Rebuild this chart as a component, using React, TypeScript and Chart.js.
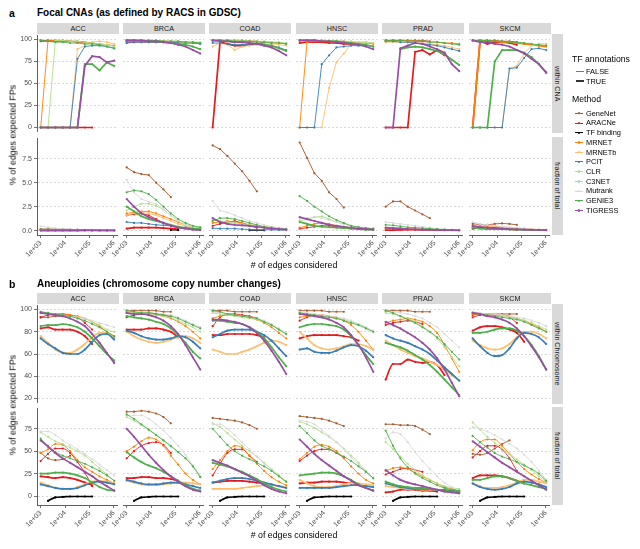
import React, { useEffect, useRef } from "react";
import { Chart, registerables } from "chart.js";

Chart.register(...registerables);

const _ = null;

// ---------- categories / labels ----------
const EDGES = [1000, 2000, 4000, 8000, 16000, 32000, 64000, 128000, 256000, 512000, 1024000];
const CANCERS = ["ACC", "BRCA", "COAD", "HNSC", "PRAD", "SKCM"];
const METHODS = ["GeneNet", "ARACNe", "TF binding", "MRNET", "MRNETb", "PCIT", "CLR", "C3NET", "Mutrank", "GENIE3", "TIGRESS"];
const METHOD_COLORS = ["#A65628", "#E41A1C", "#000000", "#FF7F00", "#FDBF6F", "#377EB8", "#B2DF8A", "#A6CEE3", "#D9D9D9", "#4DAF4A", "#984EA3"];
const TF_LABELS = ["FALSE", "TRUE"];
const X_TICKS = [1e3, 1e4, 1e5, 1e6];
const Y_TICKS_FOCAL_WITHIN = [0, 25, 50, 75, 100];
const Y_TICKS_FOCAL_FRACTION = [0, 2.5, 5, 7.5];
const Y_TICKS_ANEU_WITHIN = [20, 40, 60, 80, 100];
const Y_TICKS_ANEU_FRACTION = [0, 25, 50, 75];

type Series = [string, number, (number | null)[]];

// ---------- a: Focal CNAs, within CNA ----------
const focalWithinACC: Series[] = [
  ["GeneNet", 0, [99, 99, 99, 99, 98, 98, 97, _, _, _, _]],
  ["ARACNe", 0, [98, 98, 98, 98, 98, 97, 97, 96, _, _, _]],
  ["ARACNe", 1, [0, 0, 0, 0, 0, 0, 0, 0, _, _, _]],
  ["MRNET", 0, [0, 99, 99, 98, 98, 97, 97, 96, 95, 94, 93]],
  ["MRNETb", 0, [0, 0, 0, 0, 0, 89, 93, 97, 98, 97, 95]],
  ["PCIT", 0, [0, 0, 0, 0, 0, 78, 92, 93, 93, 92, 90]],
  ["CLR", 0, [0, 0, 99, 99, 98, 98, 97, 96, 95, 94, 92]],
  ["GENIE3", 0, [99, 98, 97, 97, 96, 96, 95, 95, 94, 92, 90]],
  ["GENIE3", 1, [0, 0, 0, 0, 0, 0, 72, 72, 65, 74, 70]],
  ["TIGRESS", 1, [0, 0, 0, 0, 0, 0, 70, 81, 80, 74, 76]],
];
const focalWithinBRCA: Series[] = [
  ["GeneNet", 0, [98, 98, 98, 98, 98, 98, 97, _, _, _, _]],
  ["ARACNe", 0, [96, 97, 97, 97, 97, 97, 97, 97, _, _, _]],
  ["MRNET", 0, [99, 99, 99, 99, 98, 98, 98, 97, 97, 96, 96]],
  ["MRNETb", 0, [98, 98, 98, 98, 98, 97, 97, 97, 96, 96, 95]],
  ["PCIT", 0, [97, 97, 97, 97, 97, 97, 97, 96, 96, 96, 95]],
  ["CLR", 0, [99, 99, 99, 99, 99, 98, 98, 98, 97, 97, 97]],
  ["GENIE3", 0, [99, 99, 99, 99, 99, 98, 98, 98, 97, 97, 96]],
  ["GENIE3", 1, [99, 99, 98, 98, 98, 97, 96, 95, 94, 92, 89]],
  ["TIGRESS", 1, [99, 99, 99, 98, 98, 97, 96, 94, 92, 88, 84]],
];
const focalWithinCOAD: Series[] = [
  ["GeneNet", 0, [99, 99, 99, 99, 99, 98, 98, _, _, _, _]],
  ["ARACNe", 1, [0, 97, 95, 93, 93, 94, 95, 96, _, _, _]],
  ["MRNET", 0, [99, 99, 99, 99, 98, 98, 98, 97, 97, 96, 95]],
  ["MRNETb", 0, [92, 96, 94, 88, 92, 93, 94, 95, 95, 94, 93]],
  ["PCIT", 0, [96, 96, 95, 94, 94, 95, 95, 94, 93, 91, 88]],
  ["CLR", 0, [99, 99, 99, 99, 99, 98, 98, 98, 97, 97, 96]],
  ["GENIE3", 0, [99, 99, 99, 98, 98, 98, 97, 97, 96, 96, 95]],
  ["GENIE3", 1, [99, 99, 98, 97, 97, 96, 95, 94, 93, 90, 87]],
  ["TIGRESS", 1, [99, 98, 98, 97, 97, 96, 95, 93, 91, 87, 82]],
];
const focalWithinHNSC: Series[] = [
  ["GeneNet", 0, [99, 99, 99, 99, 98, 98, 98, _, _, _, _]],
  ["ARACNe", 1, [96, 97, 97, 97, 96, 96, 95, 95, 94, _, _]],
  ["MRNET", 0, [0, 97, 98, 98, 98, 98, 97, 97, 96, 96, 95]],
  ["MRNETb", 0, [0, 0, 0, 0, 45, 74, 84, 95, 97, 97, 96]],
  ["PCIT", 0, [0, 0, 0, 72, 82, 91, 92, 93, 93, 93, 92]],
  ["CLR", 0, [99, 99, 99, 99, 99, 98, 98, 98, 97, 97, 96]],
  ["GENIE3", 1, [99, 99, 99, 98, 98, 98, 97, 96, 95, 94, 92]],
  ["TIGRESS", 1, [99, 99, 99, 98, 98, 97, 96, 95, 94, 92, 89]],
];
const focalWithinPRAD: Series[] = [
  ["GeneNet", 0, [99, 99, 99, 99, 99, 99, 98, _, _, _, _]],
  ["ARACNe", 1, [0, 0, 0, 0, 86, 88, 83, 88, 82, _, _]],
  ["MRNET", 0, [99, 99, 99, 99, 98, 98, 97, 97, 96, 96, 95]],
  ["MRNETb", 0, [97, 97, 97, 97, 96, 96, 95, 94, 93, 91, 89]],
  ["PCIT", 0, [98, 98, 97, 97, 96, 95, 94, 93, 91, 89, 87]],
  ["GENIE3", 0, [99, 99, 99, 98, 98, 98, 97, 97, 96, 95, 94]],
  ["GENIE3", 1, [_, _, 89, 91, 92, 91, 89, 87, 83, 77, 71]],
  ["TIGRESS", 1, [0, 0, 90, 93, 96, 95, 92, 89, 85, 72, 64]],
];
const focalWithinSKCM: Series[] = [
  ["GeneNet", 0, [99, 99, 99, 99, 98, 98, 97, _, _, _, _]],
  ["ARACNe", 1, [0, 98, 95, 97, 97, 96, 94, _, _, _, _]],
  ["MRNET", 1, [0, 99, 98, 98, 97, 97, 96, 95, 94, 93, 92]],
  ["MRNETb", 0, [0, 0, 0, 0, 0, 67, 70, 84, 93, 95, 95]],
  ["PCIT", 0, [0, 0, 0, 0, 0, 67, 68, 79, 89, 90, 88]],
  ["GENIE3", 0, [99, 99, 99, 98, 98, 97, 97, 96, 95, 94, 93]],
  ["GENIE3", 1, [0, 0, 0, 75, 88, 88, 88, 85, 80, 72, 63]],
  ["TIGRESS", 1, [99, 97, 97, 95, 94, 92, 88, 84, 78, 72, 62]],
];

// ---------- a: Focal CNAs, fraction of total ----------
const focalFracACC: Series[] = [
  ["GeneNet", 0, [0.15, 0.15, 0.15, 0.15, 0.12, 0.1, 0.08, _, _, _, _]],
  ["ARACNe", 0, [0.1, 0.1, 0.1, 0.08, 0.06, 0.05, 0.04, 0.03, _, _, _]],
  ["Mutrank", 0, [0.45, 0.35, 0.25, 0.2, 0.15, 0.1, 0.08, 0.06, 0.04, 0.03, 0.02]],
  ["MRNET", 0, [0.1, 0.12, 0.12, 0.1, 0.08, 0.06, 0.05, 0.04, 0.03, 0.02, 0.02]],
  ["GENIE3", 1, [0.1, 0.1, 0.09, 0.08, 0.07, 0.06, 0.05, 0.04, 0.03, 0.02, 0.02]],
  ["TIGRESS", 1, [0, 0, 0, 0, 0, 0, 0.02, 0.02, 0.02, 0.02, 0.02]],
];
const focalFracBRCA: Series[] = [
  ["GeneNet", 0, [6.6, 6.1, 5.9, 5.8, 5.0, 4.3, 3.5, _, _, _, _]],
  ["Mutrank", 0, [5.3, 4.0, 3.3, 3.0, 2.8, 2.2, 1.6, 1.0, 0.6, 0.4, 0.3]],
  ["CLR", 0, [2.1, 2.5, 2.8, 2.8, 2.6, 2.2, 1.6, 1.0, 0.6, 0.4, 0.3]],
  ["GENIE3", 0, [4.0, 4.2, 4.1, 3.8, 3.2, 2.5, 1.8, 1.2, 0.8, 0.5, 0.35]],
  ["GENIE3", 1, [2.5, 2.0, 1.5, 1.2, 1.0, 0.8, 0.6, 0.4, 0.3, 0.2, 0.15]],
  ["MRNET", 0, [1.8, 1.9, 2.0, 2.0, 1.8, 1.5, 1.2, 0.9, 0.6, 0.4, 0.3]],
  ["MRNETb", 0, [1.6, 1.8, 1.9, 1.8, 1.6, 1.3, 1.0, 0.7, 0.5, 0.3, 0.2]],
  ["ARACNe", 0, [1.6, 1.7, 1.8, 1.6, 1.2, 0.8, 0.5, 0.3, _, _, _]],
  ["ARACNe", 1, [0.2, 0.3, 0.3, 0.3, 0.3, 0.25, 0.2, 0.15, _, _, _]],
  ["PCIT", 0, [0.9, 0.8, 0.8, 0.7, 0.6, 0.55, 0.5, 0.4, 0.3, 0.2, 0.15]],
  ["TF binding", 0, [_, _, _, _, _, _, 0.05, 0.05, _, _, _]],
  ["TIGRESS", 1, [3.3, 2.5, 1.8, 1.4, 1.1, 0.8, 0.5, 0.3, 0.2, 0.1, 0.05]],
];
const focalFracCOAD: Series[] = [
  ["GeneNet", 0, [8.9, 8.5, 7.8, 7.0, 6.2, 5.2, 4.1, _, _, _, _]],
  ["Mutrank", 0, [3.1, 2.1, 1.9, 1.6, 1.3, 1.0, 0.8, 0.6, 0.4, 0.3, 0.2]],
  ["CLR", 0, [1.1, 1.0, 0.9, 0.8, 0.7, 0.6, 0.5, 0.35, 0.25, 0.2, 0.15]],
  ["GENIE3", 0, [1.0, 1.3, 1.3, 1.2, 1.0, 0.8, 0.6, 0.4, 0.3, 0.2, 0.15]],
  ["MRNET", 0, [0.8, 0.9, 1.0, 0.9, 0.8, 0.6, 0.5, 0.4, 0.3, 0.2, 0.15]],
  ["ARACNe", 0, [0.5, 0.7, 0.9, 1.0, 0.8, 0.5, 0.3, _, _, _, _]],
  ["PCIT", 0, [0.25, 0.2, 0.2, 0.2, 0.15, 0.12, 0.1, 0.1, 0.08, 0.06, 0.05]],
  ["TF binding", 0, [_, _, _, _, _, 0.03, 0.03, 0.03, _, _, _]],
  ["TIGRESS", 1, [1.3, 0.9, 0.7, 0.6, 0.55, 0.5, 0.4, 0.3, 0.2, 0.15, 0.1]],
];
const focalFracHNSC: Series[] = [
  ["GeneNet", 0, [9.2, 7.6, 6.0, 5.2, 4.0, 3.3, 2.4, _, _, _, _]],
  ["Mutrank", 0, [1.2, 1.3, 1.4, 1.3, 1.1, 0.9, 0.7, 0.5, 0.4, 0.3, 0.2]],
  ["CLR", 0, [1.0, 1.2, 1.4, 1.5, 1.2, 0.9, 0.7, 0.5, 0.35, 0.25, 0.2]],
  ["GENIE3", 0, [3.6, 3.1, 2.5, 2.0, 1.5, 1.1, 0.8, 0.5, 0.35, 0.25, 0.2]],
  ["GENIE3", 1, [0.9, 0.7, 0.5, 0.4, 0.35, 0.3, 0.25, 0.2, 0.15, 0.1, 0.1]],
  ["MRNET", 0, [0.3, 0.5, 0.7, 0.8, 0.7, 0.5, 0.4, 0.3, 0.2, 0.15, 0.1]],
  ["ARACNe", 0, [0.2, 0.3, 0.4, 0.5, 0.5, 0.4, 0.3, _, _, _, _]],
  ["TIGRESS", 1, [1.4, 1.2, 1.0, 0.8, 0.6, 0.5, 0.4, 0.3, 0.2, 0.15, 0.1]],
];
const focalFracPRAD: Series[] = [
  ["GeneNet", 0, [2.5, 3.05, 3.05, 2.5, 2.1, 1.7, 1.3, _, _, _, _]],
  ["Mutrank", 0, [0.9, 0.8, 0.7, 0.6, 0.5, 0.4, 0.3, 0.2, 0.15, 0.1, 0.08]],
  ["GENIE3", 0, [0.6, 0.55, 0.45, 0.35, 0.3, 0.25, 0.2, 0.15, 0.1, 0.08, 0.05]],
  ["MRNET", 0, [0.2, 0.25, 0.25, 0.2, 0.15, 0.12, 0.1, 0.08, 0.06, 0.05, 0.04]],
  ["ARACNe", 1, [0.05, 0.05, 0.08, 0.1, 0.1, 0.08, 0.06, 0.05, 0.04, _, _]],
  ["TIGRESS", 1, [0.3, 0.25, 0.2, 0.15, 0.12, 0.1, 0.08, 0.06, 0.05, 0.04, 0.03]],
];
const focalFracSKCM: Series[] = [
  ["GeneNet", 0, [0.7, 0.65, 0.6, 0.7, 0.75, 0.7, 0.6, _, _, _, _]],
  ["Mutrank", 0, [0.9, 0.7, 0.6, 0.5, 0.4, 0.35, 0.3, 0.2, 0.15, 0.1, 0.08]],
  ["MRNET", 0, [0.4, 0.45, 0.5, 0.45, 0.4, 0.3, 0.25, 0.2, 0.15, 0.1, 0.08]],
  ["GENIE3", 1, [0.3, 0.2, 0.15, 0.15, 0.15, 0.12, 0.1, 0.08, 0.06, 0.05, 0.04]],
  ["ARACNe", 1, [0.2, 0.3, 0.3, 0.25, 0.2, 0.15, 0.1, _, _, _, _]],
  ["TIGRESS", 1, [0.5, 0.4, 0.3, 0.25, 0.2, 0.15, 0.12, 0.1, 0.08, 0.06, 0.05]],
];

// ---------- b: Aneuploidies, within chromosome ----------
const aneuWithinACC: Series[] = [
  ["GeneNet", 0, [93, 93, 94, 94, 94, _, _, _, _, _, _]],
  ["Mutrank", 0, [98, 97, 96, 95, 94, 93, 92, 90, 88, 86, 84]],
  ["CLR", 0, [97, 96, 96, 95, 94, 93, 92, 89, 86, 82, 80]],
  ["GENIE3", 0, [98, 97, 96, 95, 94, 92, 90, 87, 84, 80, 76]],
  ["MRNET", 0, [97, 96, 95, 96, 95, 94, 92, 89, 85, 80, 75]],
  ["ARACNe", 0, [93, 95, 96, 96, 95, 93, 88, 82, _, _, _]],
  ["ARACNe", 1, [83, 84, 82, 82, 82, 80, 76, 69, _, _, _]],
  ["GENIE3", 1, [85, 86, 86, 87, 86, 84, 80, 74, 67, 60, 54]],
  ["PCIT", 1, [74, 69, 65, 61, 60, 60, 64, 71, 77, 78, 73]],
  ["MRNETb", 1, [76, 70, 64, 61, 61, 64, 69, 75, 79, 79, 76]],
  ["TIGRESS", 1, [97, 96, 95, 94, 92, 89, 85, 78, 70, 61, 52]],
];
const aneuWithinBRCA: Series[] = [
  ["GeneNet", 0, [99, 99, 99, 99, 99, 98, 98, _, _, _, _]],
  ["Mutrank", 0, [99, 98, 98, 97, 97, 96, 95, 93, 90, 87, 84]],
  ["CLR", 0, [98, 97, 97, 96, 95, 94, 93, 90, 87, 84, 80]],
  ["GENIE3", 0, [99, 98, 97, 97, 96, 95, 94, 92, 89, 86, 83]],
  ["MRNET", 0, [97, 97, 96, 96, 95, 94, 92, 89, 85, 80, 74]],
  ["ARACNe", 0, [93, 95, 96, 97, 96, 95, 93, _, _, _, _]],
  ["ARACNe", 1, [82, 82, 82, 83, 83, 82, 80, 75, _, _, _]],
  ["GENIE3", 1, [94, 93, 92, 91, 89, 87, 83, 77, 70, 62, 56]],
  ["PCIT", 1, [81, 79, 76, 74, 73, 73, 74, 76, 75, 71, 65]],
  ["MRNETb", 1, [80, 76, 73, 71, 70, 71, 73, 75, 76, 74, 70]],
  ["TIGRESS", 1, [97, 96, 96, 95, 93, 90, 85, 78, 68, 57, 46]],
];
const aneuWithinCOAD: Series[] = [
  ["GeneNet", 0, [99, 99, 99, 98, 98, 98, 98, _, _, _, _]],
  ["Mutrank", 0, [98, 97, 96, 95, 94, 93, 92, 90, 87, 83, 79]],
  ["CLR", 0, [97, 96, 95, 94, 93, 92, 91, 89, 86, 82, 78]],
  ["GENIE3", 0, [99, 98, 96, 95, 94, 93, 92, 89, 86, 82, 78]],
  ["MRNET", 0, [92, 94, 95, 95, 94, 93, 91, 88, 84, 79, 74]],
  ["ARACNe", 0, [85, 93, 96, 96, 95, 94, 92, _, _, _, _]],
  ["ARACNe", 1, [77, 77, 78, 78, 78, 78, 77, 75, _, _, _]],
  ["GENIE3", 1, [90, 90, 89, 88, 87, 84, 80, 74, 66, 57, 49]],
  ["PCIT", 1, [75, 78, 81, 82, 82, 82, 80, 77, 72, 65, 58]],
  ["MRNETb", 1, [64, 62, 60, 60, 62, 64, 67, 70, 72, 71, 68]],
  ["TIGRESS", 1, [91, 91, 90, 89, 87, 84, 79, 72, 63, 53, 42]],
];
const aneuWithinHNSC: Series[] = [
  ["GeneNet", 0, [99, 99, 99, 99, 98, 98, 98, _, _, _, _]],
  ["Mutrank", 0, [98, 97, 96, 95, 94, 93, 92, 90, 87, 84, 81]],
  ["CLR", 0, [97, 96, 95, 94, 93, 92, 91, 89, 87, 84, 80]],
  ["GENIE3", 0, [97, 96, 95, 94, 93, 92, 90, 88, 86, 83, 80]],
  ["MRNET", 0, [93, 94, 95, 95, 94, 93, 90, 86, 80, 72, 64]],
  ["ARACNe", 0, [90, 93, 95, 95, 94, 92, _, _, _, _, _]],
  ["ARACNe", 1, [74, 76, 77, 77, 77, 77, 76, 75, 72, _, _]],
  ["GENIE3", 1, [84, 86, 87, 87, 86, 85, 82, 76, 68, 59, 51]],
  ["PCIT", 1, [64, 65, 62, 61, 61, 63, 66, 68, 67, 63, 57]],
  ["MRNETb", 1, [80, 74, 68, 65, 64, 65, 67, 69, 69, 67, 64]],
  ["TIGRESS", 1, [96, 95, 94, 93, 91, 88, 84, 77, 68, 57, 44]],
];
const aneuWithinPRAD: Series[] = [
  ["GeneNet", 0, [99, 99, 99, 99, 98, 98, 98, _, _, _, _]],
  ["Mutrank", 0, [99, 98, 97, 96, 94, 92, 88, 84, 78, 72, 66]],
  ["CLR", 0, [97, 96, 94, 92, 89, 85, 80, 74, 66, 57, 49]],
  ["GENIE3", 0, [99, 97, 94, 91, 88, 84, 80, 75, 69, 62, 55]],
  ["MRNET", 0, [88, 90, 91, 92, 91, 89, 85, 79, 68, 56, 44]],
  ["ARACNe", 0, [86, 88, 89, 90, 89, 87, _, _, _, _, _]],
  ["ARACNe", 1, [37, 51, 51, 55, 53, 52, 53, 50, 41, _, _]],
  ["GENIE3", 1, [70, 68, 66, 63, 59, 55, 50, 44, 37, 30, 23]],
  ["PCIT", 1, [77, 74, 72, 70, 67, 64, 60, 54, 48, 42, 36]],
  ["MRNETb", 1, [72, 68, 64, 61, 58, 56, 53, 50, 46, 41, 36]],
  ["TIGRESS", 1, [89, 86, 83, 79, 75, 70, 64, 56, 46, 34, 22]],
];
const aneuWithinSKCM: Series[] = [
  ["GeneNet", 0, [95, 96, 96, 96, 96, 96, 96, _, _, _, _]],
  ["Mutrank", 0, [98, 97, 96, 96, 95, 94, 93, 92, 90, 88, 85]],
  ["CLR", 0, [97, 96, 95, 95, 94, 93, 92, 90, 88, 85, 82]],
  ["GENIE3", 0, [97, 96, 95, 94, 93, 92, 91, 89, 86, 83, 80]],
  ["MRNET", 0, [96, 96, 96, 95, 95, 94, 92, 90, 87, 84, 80]],
  ["ARACNe", 0, [93, 95, 96, 95, 95, 93, 88, _, _, _, _]],
  ["ARACNe", 1, [81, 84, 85, 85, 84, 82, 79, 71, _, _, _]],
  ["GENIE3", 1, [79, 79, 80, 82, 83, 83, 81, 76, 68, 58, 46]],
  ["PCIT", 1, [74, 67, 61, 58, 59, 65, 74, 79, 78, 75, 69]],
  ["MRNETb", 1, [72, 68, 65, 64, 65, 69, 75, 80, 80, 78, 74]],
  ["TIGRESS", 1, [97, 96, 94, 93, 91, 88, 83, 76, 67, 57, 46]],
];

// ---------- b: Aneuploidies, fraction of total ----------
const aneuFracACC: Series[] = [
  ["GeneNet", 0, [48, 42, 40, 41, 45, _, _, _, _, _, _]],
  ["Mutrank", 0, [72, 72, 68, 62, 57, 52, 47, 41, 35, 29, 23]],
  ["CLR", 0, [71, 66, 61, 58, 54, 50, 45, 38, 31, 24, 17]],
  ["GENIE3", 0, [64, 56, 49, 45, 42, 39, 36, 32, 28, 23, 17]],
  ["MRNET", 0, [48, 52, 58, 57, 50, 40, 32, 27, 22, 18, 14]],
  ["ARACNe", 0, [39, 47, 53, 53, 48, 38, 26, 11, _, _, _]],
  ["ARACNe", 1, [22, 21, 20, 21, 20, 18, 15, 12, _, _, _]],
  ["GENIE3", 1, [25, 25, 26, 26, 25, 23, 20, 15, 10, 7, 6]],
  ["PCIT", 1, [13, 11, 9, 8, 8, 9, 12, 15, 16, 15, 13]],
  ["MRNETb", 1, [15, 12, 9, 8, 8, 10, 13, 16, 17, 16, 14]],
  ["TF binding", 1, [_, -5.5, -1.5, -1, -0.5, -0.5, -0.5, -0.5, _, _, _]],
  ["TIGRESS", 1, [62, 55, 48, 42, 37, 32, 27, 22, 16, 11, 6]],
];
const aneuFracBRCA: Series[] = [
  ["GeneNet", 0, [94, 94, 95, 94, 92, 88, 81, _, _, _, _]],
  ["Mutrank", 0, [90, 90, 90, 86, 80, 73, 65, 56, 46, 34, 22]],
  ["CLR", 0, [88, 84, 79, 74, 68, 62, 55, 49, 42, 34, 22]],
  ["GENIE3", 0, [91, 86, 80, 74, 68, 62, 56, 49, 42, 33, 21]],
  ["MRNET", 0, [50, 55, 61, 65, 63, 56, 45, 35, 25, 18, 13]],
  ["ARACNe", 0, [42, 50, 56, 59, 60, 57, 48, _, _, _, _]],
  ["ARACNe", 1, [20, 20, 21, 21, 20, 20, 19, 17, _, _, _]],
  ["GENIE3", 1, [49, 43, 38, 34, 31, 27, 22, 17, 12, 8, 6]],
  ["PCIT", 1, [18, 16, 14, 13, 13, 14, 15, 15, 13, 11, 9]],
  ["MRNETb", 1, [17, 15, 13, 12, 12, 13, 14, 15, 15, 14, 13]],
  ["TF binding", 1, [_, -5.5, -1.5, -1, -0.5, -0.5, -0.5, -0.5, _, _, _]],
  ["TIGRESS", 1, [75, 66, 56, 46, 37, 29, 22, 16, 11, 7, 5]],
];
const aneuFracCOAD: Series[] = [
  ["GeneNet", 0, [87, 86, 85, 84, 82, 79, 75, _, _, _, _]],
  ["Mutrank", 0, [80, 80, 75, 68, 60, 52, 44, 36, 30, 22, 15]],
  ["CLR", 0, [81, 77, 70, 63, 56, 50, 44, 37, 30, 23, 16]],
  ["GENIE3", 0, [75, 66, 57, 50, 45, 41, 37, 33, 28, 22, 16]],
  ["MRNET", 0, [30, 40, 50, 56, 54, 45, 36, 28, 21, 16, 12]],
  ["ARACNe", 0, [23, 36, 48, 52, 52, 45, 38, _, _, _, _]],
  ["ARACNe", 1, [15, 16, 17, 17, 17, 16, 15, 14, _, _, _]],
  ["GENIE3", 1, [37, 35, 33, 30, 27, 23, 19, 14, 10, 7, 5]],
  ["PCIT", 1, [15, 17, 19, 20, 20, 19, 17, 15, 13, 11, 9]],
  ["MRNETb", 1, [8, 8, 8, 8, 9, 10, 11, 12, 12, 11, 10]],
  ["TF binding", 1, [_, -5.5, -1.5, -1, -0.5, -0.5, -0.5, -0.5, _, _, _]],
  ["TIGRESS", 1, [40, 37, 34, 30, 26, 22, 17, 12, 8, 5, 3]],
];
const aneuFracHNSC: Series[] = [
  ["GeneNet", 0, [89, 88, 87, 86, 84, 81, 78, _, _, _, _]],
  ["Mutrank", 0, [84, 83, 80, 74, 67, 60, 52, 43, 35, 27, 19]],
  ["CLR", 0, [83, 80, 76, 71, 66, 60, 53, 45, 37, 28, 20]],
  ["GENIE3", 0, [78, 70, 62, 56, 52, 48, 44, 39, 33, 27, 20]],
  ["MRNET", 0, [41, 48, 55, 57, 55, 50, 42, 33, 25, 18, 14]],
  ["ARACNe", 0, [39, 45, 50, 52, 52, 48, 43, _, _, _, _]],
  ["ARACNe", 1, [14, 15, 15, 16, 16, 16, 15, 14, 13, _, _]],
  ["GENIE3", 1, [23, 24, 25, 26, 26, 25, 22, 18, 13, 9, 6]],
  ["PCIT", 1, [9, 9, 9, 9, 9, 10, 11, 12, 12, 11, 10]],
  ["MRNETb", 1, [18, 14, 11, 10, 10, 11, 13, 14, 14, 13, 12]],
  ["TF binding", 1, [_, -5.5, -1.5, -1, -0.5, -0.5, -0.5, -0.5, _, _, _]],
  ["TIGRESS", 1, [63, 55, 47, 40, 34, 28, 22, 17, 12, 9, 6]],
];
const aneuFracPRAD: Series[] = [
  ["GeneNet", 0, [80, 80, 79, 79, 78, 74, 69, _, _, _, _]],
  ["Mutrank", 0, [64, 71, 69, 60, 49, 39, 30, 22, 15, 10, 7]],
  ["CLR", 0, [60, 52, 44, 36, 29, 23, 18, 14, 11, 9, 8]],
  ["GENIE3", 0, [73, 56, 42, 32, 25, 20, 16, 12, 9, 7, 6]],
  ["MRNET", 0, [28, 31, 32, 30, 26, 22, 18, 14, 10, 8, 6]],
  ["ARACNe", 0, [24, 27, 30, 31, 29, 27, _, _, _, _, _]],
  ["ARACNe", 1, [4, 5, 7, 7, 7, 6, 6, 5, _, _, _]],
  ["GENIE3", 1, [16, 13, 11, 10, 9, 9, 8, 7, 6, 5, 4]],
  ["PCIT", 1, [14, 12, 10, 9, 8, 8, 8, 7, 7, 6, 5]],
  ["MRNETb", 1, [11, 10, 9, 8, 8, 7, 7, 7, 6, 5, 5]],
  ["TF binding", 1, [_, -5.5, -1.5, -1, -0.5, -0.5, -0.5, -0.5, _, _, _]],
  ["TIGRESS", 1, [29, 23, 18, 15, 13, 11, 9, 7, 5, 4, 3]],
];
const aneuFracSKCM: Series[] = [
  ["GeneNet", 0, [47, 46, 48, 53, 58, 62, _, _, _, _, _]],
  ["Mutrank", 0, [77, 75, 72, 68, 63, 58, 53, 46, 38, 28, 18]],
  ["CLR", 0, [82, 74, 66, 59, 53, 47, 41, 35, 29, 22, 16]],
  ["GENIE3", 0, [67, 60, 54, 48, 44, 41, 38, 34, 30, 25, 17]],
  ["MRNET", 0, [51, 60, 63, 63, 56, 47, 38, 30, 24, 19, 15]],
  ["ARACNe", 0, [43, 50, 56, 56, 52, 42, 28, _, _, _, _]],
  ["ARACNe", 1, [20, 23, 23, 23, 22, 20, 17, 14, _, _, _]],
  ["GENIE3", 1, [18, 18, 20, 22, 22, 20, 17, 14, 12, 10, 8]],
  ["PCIT", 1, [14, 10, 8, 7, 8, 10, 14, 16, 15, 13, 10]],
  ["MRNETb", 1, [14, 11, 9, 9, 10, 12, 15, 18, 18, 16, 14]],
  ["TF binding", 1, [_, -5.5, -1.5, -1, -0.5, -0.5, -0.5, -0.5, _, _, _]],
  ["TIGRESS", 1, [61, 55, 49, 43, 37, 32, 27, 22, 17, 12, 7]],
];

const FOCAL_WITHIN = [focalWithinACC, focalWithinBRCA, focalWithinCOAD, focalWithinHNSC, focalWithinPRAD, focalWithinSKCM];
const FOCAL_FRACTION = [focalFracACC, focalFracBRCA, focalFracCOAD, focalFracHNSC, focalFracPRAD, focalFracSKCM];
const ANEU_WITHIN = [aneuWithinACC, aneuWithinBRCA, aneuWithinCOAD, aneuWithinHNSC, aneuWithinPRAD, aneuWithinSKCM];
const ANEU_FRACTION = [aneuFracACC, aneuFracBRCA, aneuFracCOAD, aneuFracHNSC, aneuFracPRAD, aneuFracSKCM];

// ---------- layout / style ----------
const FONT = "'Liberation Sans', Arial, Helvetica, sans-serif";
const AXIS = "#4d4d4d";
const COLS = [37, 123, 209, 296, 382, 469];
const PW = 82;
const YW = 28;
const XH = 34;

function fmtX(v: number) {
  const e = Math.round(Math.log10(v));
  return "1e+" + String(e).padStart(2, "0");
}

function Facet(props: any) {
  const { series, left, top, height, yMin, yMax, yTicks, yDecimals, showY, showX, smooth } = props;
  const ref = useRef<HTMLCanvasElement | null>(null);
  const cw = PW + YW;
  const ch = height + (showX ? XH : 0);
  useEffect(() => {
    const datasets = (series as Series[]).map(([m, tf, vals]) => {
      const mi = METHODS.indexOf(m);
      const color = METHOD_COLORS[mi];
      const data: any[] = [];
      vals.forEach((v, i) => {
        if (v !== null) data.push({ x: EDGES[i], y: v });
      });
      return {
        label: m + " " + TF_LABELS[tf],
        data,
        borderColor: color,
        backgroundColor: color,
        borderWidth: tf ? 1.7 : 0.9,
        pointRadius: 1.1,
        pointBorderWidth: 0,
        pointHoverRadius: 0,
        cubicInterpolationMode: smooth ? "monotone" : "default",
        tension: 0,
        order: -(mi * 2 + tf),
      };
    });
    const chart = new Chart(ref.current as HTMLCanvasElement, {
      type: "line",
      data: { datasets } as any,
      options: {
        animation: false,
        responsive: false,
        maintainAspectRatio: false,
        devicePixelRatio: 1,
        events: [],
        layout: { padding: 0 },
        plugins: { legend: { display: false }, tooltip: { enabled: false } },
        scales: {
          x: {
            type: "logarithmic",
            display: showX,
            min: Math.pow(10, 2.85),
            max: Math.pow(10, 6.16),
            afterBuildTicks: (s: any) => {
              s.ticks = X_TICKS.map((v) => ({ value: v }));
            },
            afterFit: (s: any) => {
              s.height = showX ? XH : 0;
              s.paddingLeft = 0;
              s.paddingRight = 0;
              s.paddingTop = 0;
              s.paddingBottom = 0;
            },
            grid: { drawOnChartArea: false, drawTicks: true, tickLength: 3, tickColor: AXIS, tickWidth: 0.8 },
            border: { display: true, color: AXIS, width: 0.9 },
            ticks: {
              autoSkip: false,
              minRotation: 45,
              maxRotation: 45,
              padding: 1,
              color: AXIS,
              font: { family: FONT, size: 7 },
              callback: (v: any) => fmtX(Number(v)),
            },
          },
          y: {
            type: "linear",
            min: yMin,
            max: yMax,
            afterBuildTicks: (s: any) => {
              s.ticks = (yTicks as number[]).map((v) => ({ value: v }));
            },
            afterFit: (s: any) => {
              s.width = YW;
              s.paddingTop = 0;
              s.paddingBottom = 0;
              s.paddingLeft = 0;
              s.paddingRight = 0;
            },
            grid: { color: "#cfcfcf", lineWidth: 0.8, drawTicks: showY, tickLength: 3, tickColor: AXIS, tickWidth: 0.8 },
            border: { display: showY, color: AXIS, width: 0.9, dash: [2, 2] },
            ticks: {
              display: showY,
              padding: 2,
              color: AXIS,
              font: { family: FONT, size: 7 },
              callback: (v: any) => (yDecimals ? Number(v).toFixed(1) : String(v)),
            },
          },
        },
      } as any,
    });
    return () => chart.destroy();
  }, []);
  return (
    <canvas
      ref={ref}
      width={cw}
      height={ch}
      style={{ position: "absolute", left: left - YW, top, width: cw, height: ch }}
    />
  );
}

function Txt(props: any) {
  const { x, cy, size, bold, children, color, anchor } = props;
  return (
    <div
      style={{
        position: "absolute",
        left: x,
        top: cy - size / 2,
        fontSize: size,
        lineHeight: size + "px",
        height: size,
        fontFamily: FONT,
        fontWeight: bold ? "bold" : "normal",
        color: color || "#000",
        whiteSpace: "nowrap",
        transform: anchor === "middle" ? "translateX(-50%)" : undefined,
      }}
    >
      {children}
    </div>
  );
}

function RotTxt(props: any) {
  const { cx, cy, size, children } = props;
  return (
    <div
      style={{
        position: "absolute",
        left: cx,
        top: cy,
        fontSize: size,
        lineHeight: size + "px",
        fontFamily: FONT,
        whiteSpace: "nowrap",
        transform: "translate(-50%, -50%) rotate(-90deg)",
      }}
    >
      {children}
    </div>
  );
}

function Panel(props: any) {
  const { letter, title, titleY, stripTop, rows, xTitleY } = props;
  const r1 = rows[0];
  const r2 = rows[1];
  const yMid = (r1.top + r2.top + r2.height) / 2;
  return (
    <>
      <Txt x={9} cy={titleY} size={10.5} bold>{letter}</Txt>
      <Txt x={37} cy={titleY} size={10} bold>{title}</Txt>
      {CANCERS.map((c, i) => (
        <div
          key={c}
          style={{
            position: "absolute",
            left: COLS[i],
            top: stripTop,
            width: PW,
            height: 11,
            background: "#D9D9D9",
            color: "#1A1A1A",
            fontFamily: FONT,
            fontSize: 7.2,
            lineHeight: "11px",
            textAlign: "center",
          }}
        >
          {c}
        </div>
      ))}
      {rows.map((r: any, ri: number) => (
        <div
          key={"rs" + ri}
          style={{
            position: "absolute",
            left: COLS[5] + PW + 1,
            top: r.top,
            width: 11,
            height: r.height,
            background: "#D9D9D9",
            display: "flex",
            alignItems: "center",
            justifyContent: "center",
          }}
        >
          <div style={{ writingMode: "vertical-rl", fontFamily: FONT, fontSize: 7.2, color: "#1A1A1A", whiteSpace: "nowrap" }}>
            {r.strip}
          </div>
        </div>
      ))}
      {rows.map((r: any, ri: number) =>
        CANCERS.map((c, ci) => (
          <Facet
            key={"f" + ri + c}
            series={r.data[ci]}
            left={COLS[ci]}
            top={r.top}
            height={r.height}
            yMin={r.yMin}
            yMax={r.yMax}
            yTicks={r.yTicks}
            yDecimals={r.yDecimals}
            showY={ci === 0}
            showX={ri === 1}
            smooth={r.smooth}
          />
        ))
      )}
      <RotTxt cx={13} cy={yMid} size={8.8}>% of edges expected FPs</RotTxt>
      <Txt x={(COLS[0] + COLS[5] + PW) / 2} cy={xTitleY} size={8.8} anchor="middle">
        # of edges considered
      </Txt>
    </>
  );
}

function Legend() {
  const lx = 572;
  const rowsY = METHODS.map((_m, i) => 113.3 + i * 9.73);
  return (
    <>
      <Txt x={lx} cy={59} size={8.7}>TF annotations</Txt>
      <div style={{ position: "absolute", left: 576, top: 71.3, width: 8, height: 1, background: "#777" }} />
      <Txt x={586} cy={72} size={7.4}>FALSE</Txt>
      <div style={{ position: "absolute", left: 576, top: 80.3, width: 8, height: 2, background: "#333" }} />
      <Txt x={586} cy={81.3} size={7.4}>TRUE</Txt>
      <Txt x={lx} cy={99.5} size={8.7}>Method</Txt>
      {METHODS.map((m, i) => (
        <React.Fragment key={m}>
          <div style={{ position: "absolute", left: 575, top: rowsY[i] - 0.5, width: 8, height: 1, background: METHOD_COLORS[i] }} />
          <div
            style={{
              position: "absolute",
              left: 577.8,
              top: rowsY[i] - 1.2,
              width: 2.4,
              height: 2.4,
              borderRadius: "50%",
              background: METHOD_COLORS[i],
            }}
          />
          <Txt x={586} cy={rowsY[i]} size={7.4}>{m}</Txt>
        </React.Fragment>
      ))}
    </>
  );
}

export default function App() {
  const focalRows = [
    { top: 34, height: 99, yMin: -5, yMax: 105, yTicks: Y_TICKS_FOCAL_WITHIN, yDecimals: false, strip: "within CNA", data: FOCAL_WITHIN, smooth: false },
    { top: 137, height: 98, yMin: -0.46, yMax: 9.66, yTicks: Y_TICKS_FOCAL_FRACTION, yDecimals: true, strip: "fraction of total", data: FOCAL_FRACTION, smooth: false },
  ];
  const aneuRows = [
    { top: 304, height: 100, yMin: 16, yMax: 104, yTicks: Y_TICKS_ANEU_WITHIN, yDecimals: false, strip: "within Chromosome", data: ANEU_WITHIN, smooth: true },
    { top: 407, height: 98, yMin: -10, yMax: 98, yTicks: Y_TICKS_ANEU_FRACTION, yDecimals: false, strip: "fraction of total", data: ANEU_FRACTION, smooth: true },
  ];
  return (
    <div style={{ position: "fixed", left: 0, top: 0, width: 640, height: 549, background: "#fff", overflow: "hidden" }}>
      <Panel letter="a" title="Focal CNAs (as defined by RACS in GDSC)" titleY={13} stripTop={23} rows={focalRows} xTitleY={265} />
      <Panel letter="b" title="Aneuploidies (chromosome copy number changes)" titleY={284} stripTop={293} rows={aneuRows} xTitleY={535} />
      <Legend />
    </div>
  );
}
